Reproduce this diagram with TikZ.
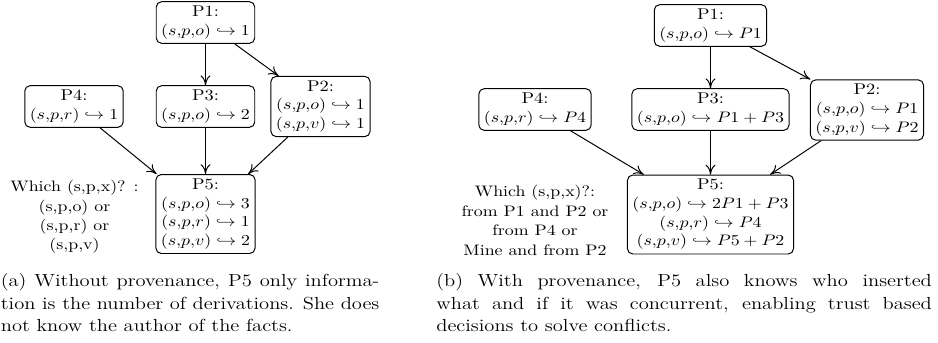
\documentclass[tikz,border=0pt]{standalone}
\usetikzlibrary{arrows.meta}
\newcommand{\tri}[1]{(s{,}p{,}#1)}
\begin{document}
\begin{tikzpicture}[x=0.56pt, y=-0.6588pt, yscale=0.85,
  every node/.append style={transform shape},
  box/.style={draw, rounded corners=3pt, align=center, inner sep=2.8pt, line width=0.55pt,
    font=\fontsize{10.3}{12.3}\selectfont},
  note/.style={align=center, inner sep=0pt, font=\fontsize{10}{12.8}\selectfont},
  captxt/.style={align=left, inner sep=0pt, anchor=north west, font=\fontsize{11.5}{14.8}\selectfont},
  arr/.style={-{To[length=5.5pt,width=5.6pt]}, line width=0.55pt}]
\useasboundingbox (0,0) rectangle (938,343);

% (a)
\node[box] (a1) at (205.5,22.5) {P1:\\$\tri{o} \hookrightarrow 1$};
\node[box] (a3) at (205.5,106.5) {P3:\\$\tri{o} \hookrightarrow 2$};
\node[box] (a4) at (74,106.5) {P4:\\$\tri{r} \hookrightarrow 1$};
\node[box] (a2) at (320.5,106.5) {P2:\\$\tri{o} \hookrightarrow 1$\\$\tri{v} \hookrightarrow 1$};
\node[box] (a5) at (205.5,214) {P5:\\$\tri{o} \hookrightarrow 3$\\$\tri{r} \hookrightarrow 1$\\$\tri{v} \hookrightarrow 2$};
\node[note] (aq) at (74.5,217) {Which (s,p,x)? :\\(s,p,o) or\\(s,p,r) or\\(s,p,v)};
\draw[arr] (a1) -- (a3);
\draw[arr] (a1) -- (a2);
\draw[arr] (a4) -- (a5);
\draw[arr] (a3) -- (a5);
\draw[arr] (a2) -- (a5);
\node[captxt] (ca) at (0.5,273.5) {\makebox[212pt][s]{(a) Without provenance, P5 only informa-}\\
  \makebox[212pt][s]{tion is the number of derivations. She does}\\
  not know the author of the facts.};

% (b)
\node[box] (b1) at (710.5,25.5) {P1:\\$\tri{o} \hookrightarrow P1$};
\node[box] (b3) at (710.5,109.5) {P3:\\$\tri{o} \hookrightarrow P1+P3$};
\node[box] (b4) at (535,109.5) {P4:\\$\tri{r} \hookrightarrow P4$};
\node[box] (b2) at (867,110) {P2:\\$\tri{o} \hookrightarrow P1$\\$\tri{v} \hookrightarrow P2$};
\node[box] (b5) at (710.5,214.5) {P5:\\$\tri{o} \hookrightarrow 2P1+P3$\\$\tri{r} \hookrightarrow P4$\\$\tri{v} \hookrightarrow P5+P2$};
\node[note] (bq) at (535,220.5) {Which (s,p,x)?:\\from P1 and P2 or\\from P4 or\\Mine and from P2};
\draw[arr] (b1) -- (b3);
\draw[arr] (b1) -- (b2);
\draw[arr] (b4) -- (b5);
\draw[arr] (b3) -- (b5);
\draw[arr] (b2) -- (b5);
\node[captxt] (cb) at (436,273.5) {\makebox[277.5pt][s]{(b) With provenance, P5 also knows who inserted}\\
  \makebox[277.5pt][s]{what and if it was concurrent, enabling trust based}\\
  decisions to solve conflicts.};
\end{tikzpicture}
\end{document}
